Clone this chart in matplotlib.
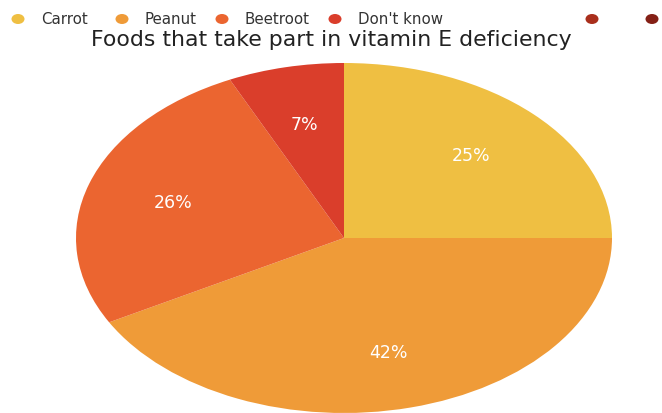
import matplotlib.pyplot as plt
from matplotlib.patches import Ellipse

# Данни
foods = ['Carrot', 'Peanut', 'Beetroot', "Don't know"]
shares = [25, 42, 26, 7]
legend_labels = ['Carrot', 'Peanut', 'Beetroot', "Don't know", '', '']
legend_colors = ['#EFBF42', '#EF9B38', '#EB6530', '#DA3E2B', '#A92F1C', '#842016']
title = 'Foods that take part in vitamin E deficiency'

W, H = 662, 414
fig = plt.figure(figsize=(W / 100, H / 100), dpi=100)
plt.rcParams['font.family'] = ['DejaVu Sans']

# Пай - разтегнат хоризонтално (елипса)
cx, cy, rx, ry = 344, 239, 268, 175
ax = fig.add_axes([(cx - rx) / W, (H - cy - ry) / H, 2 * rx / W, 2 * ry / H])
wedges, texts, autotexts = ax.pie(shares, colors=legend_colors[:4], startangle=90, counterclock=False,
                                  autopct='%d%%', pctdistance=0.67, radius=1,
                                  wedgeprops={'linewidth': 0},
                                  textprops={'color': 'white', 'fontsize': 12.5})
ax.set_aspect('auto')
ax.set_xlim(-1, 1)
ax.set_ylim(-1, 1)
ax.axis('off')

# Легенда - ръчно разположена
lx = [18, 122, 222, 335, 592, 652]
over = fig.add_axes([0, 0, 1, 1], zorder=5)
over.set_xlim(0, W)
over.set_ylim(H, 0)
over.axis('off')
for x, lab, col in zip(lx, legend_labels, legend_colors):
    over.add_patch(Ellipse((x, 20), 13, 10, color=col, lw=0))
    over.text(x + 23, 20, lab, fontsize=10.8, color='#333333', va='center', ha='left')

over.text(331, 40, title, fontsize=15.8, color='#222222', va='center', ha='center')

fig.savefig('out.png', dpi=100)
